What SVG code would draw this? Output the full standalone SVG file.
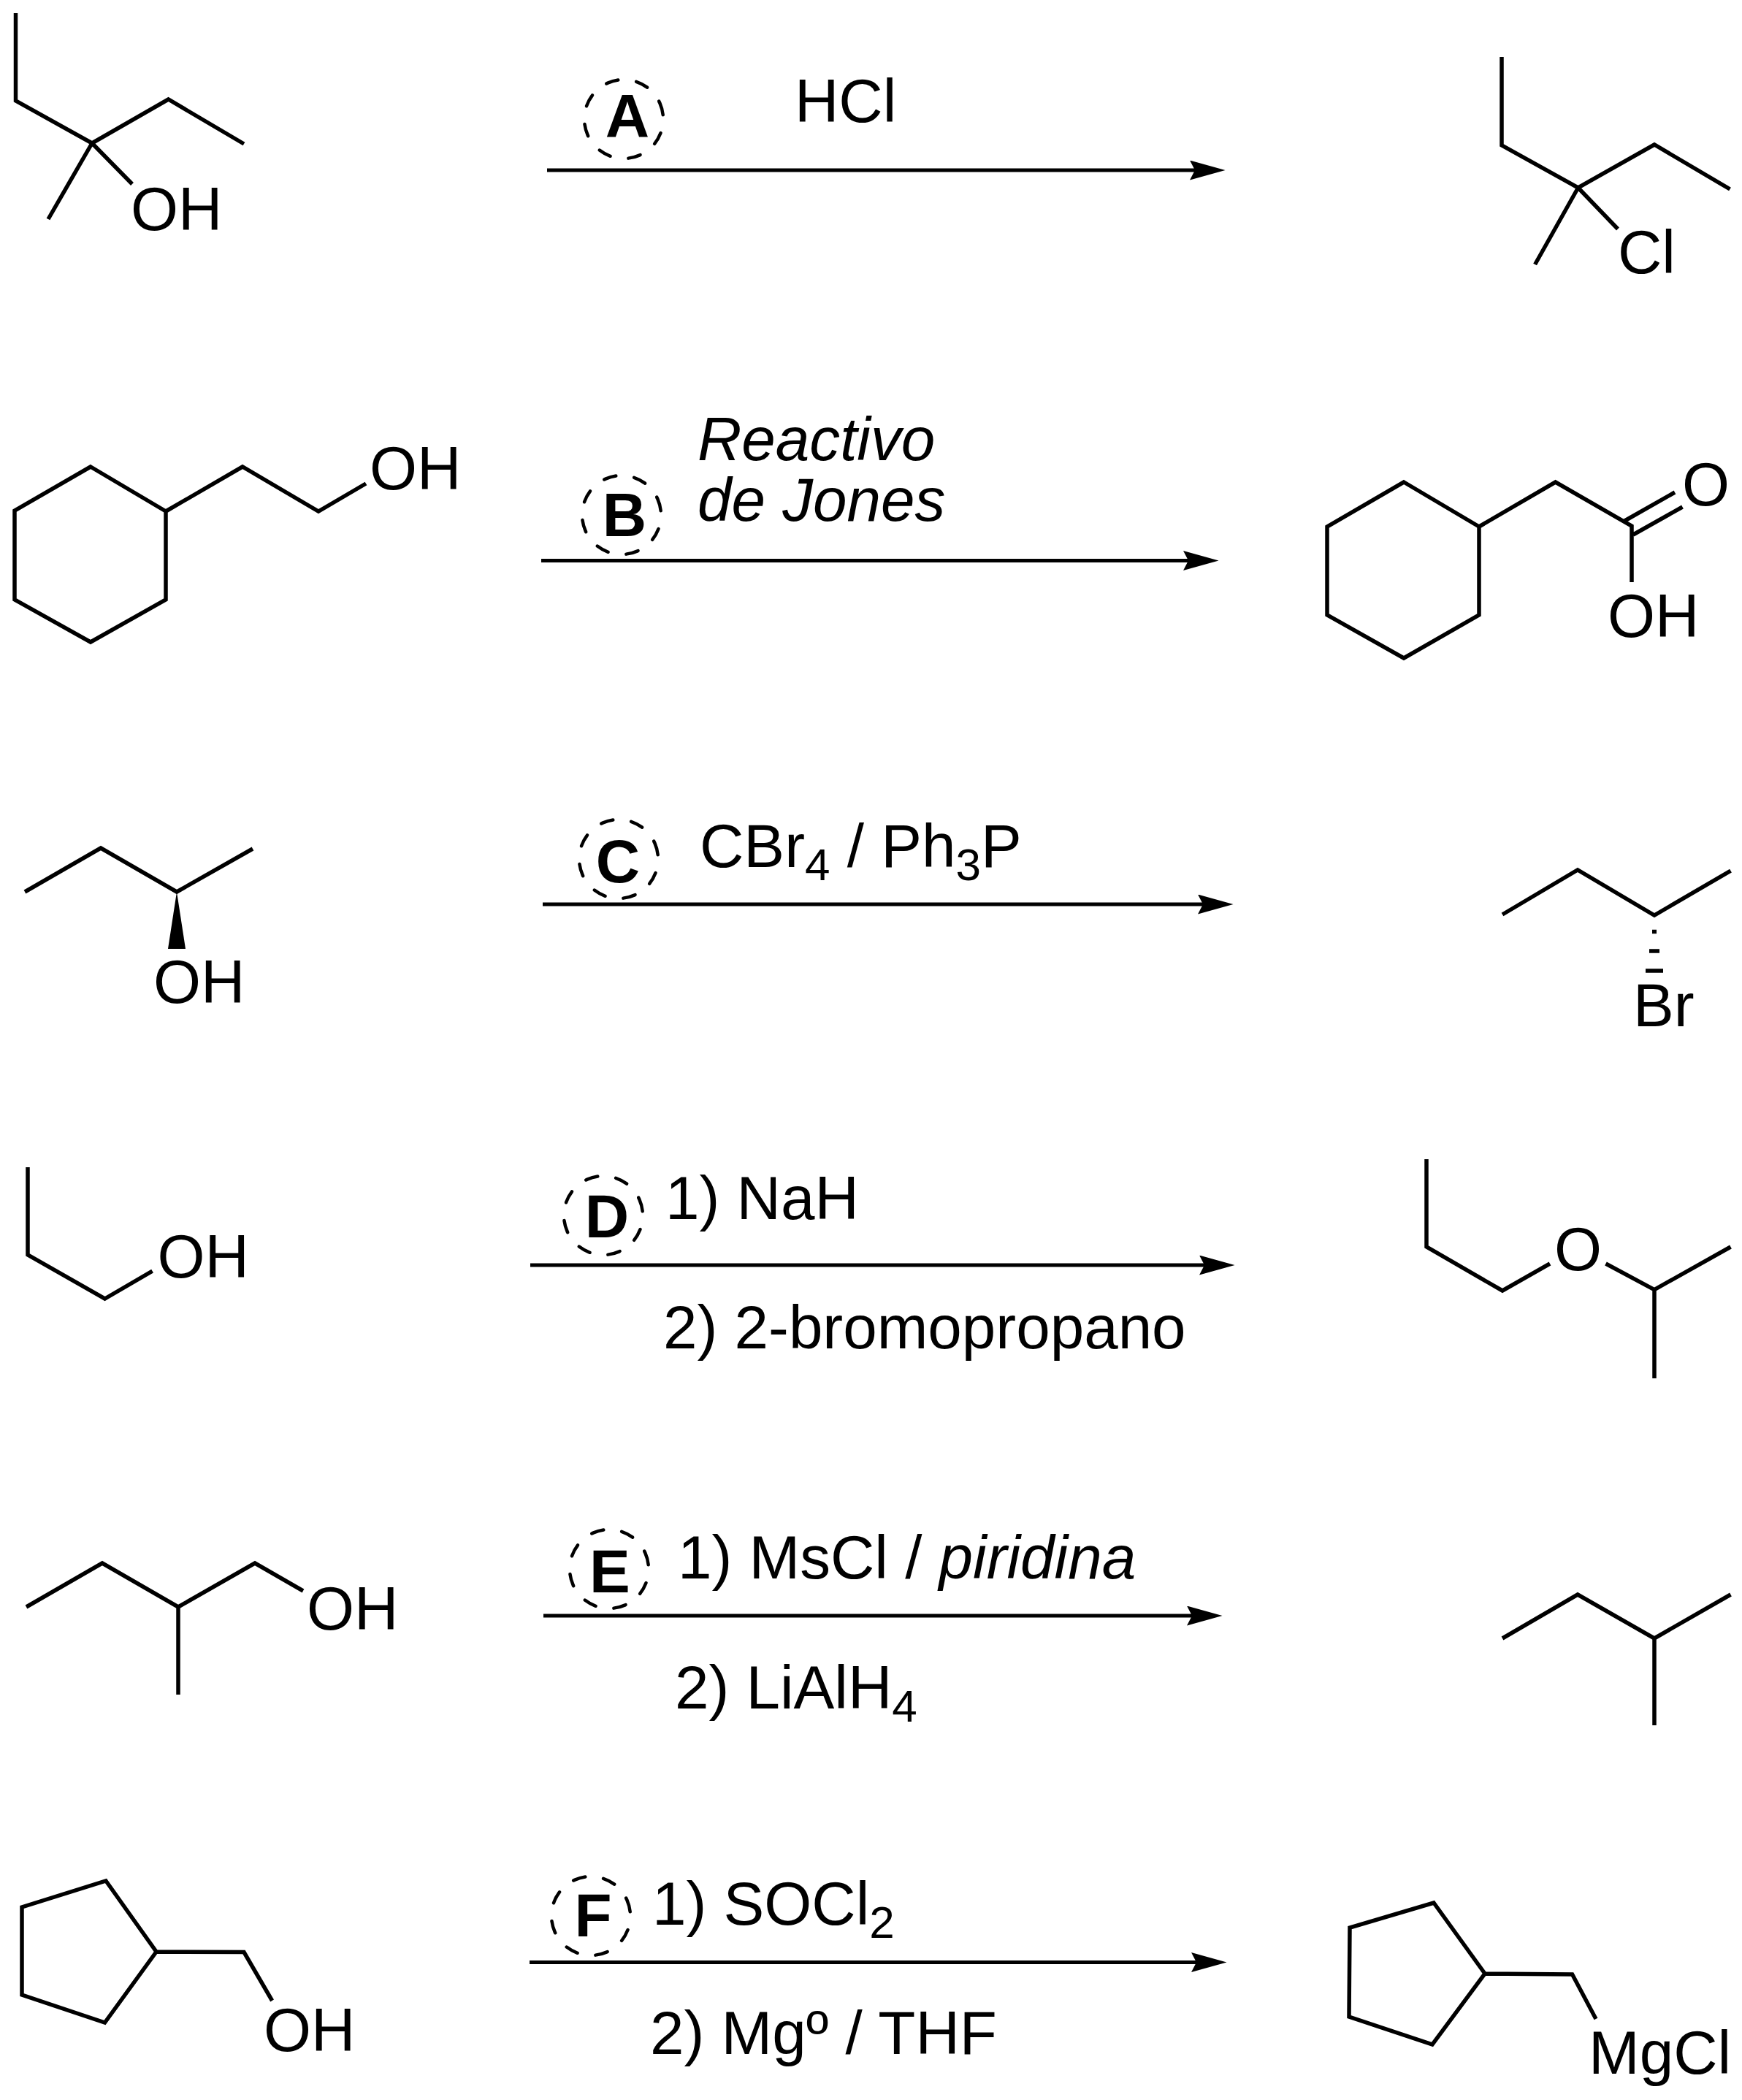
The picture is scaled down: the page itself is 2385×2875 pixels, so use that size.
<svg xmlns="http://www.w3.org/2000/svg" width="2385" height="2875" viewBox="0 0 2385 2875">
<style>
text{font-family:"Liberation Sans",Arial,sans-serif;font-size:83.6px;fill:#000}
.l{font-weight:700;text-anchor:middle}
.i{font-style:italic}
.s{font-size:62px}
.b{fill:none;stroke:#000;stroke-width:5.5;stroke-linejoin:miter;stroke-linecap:butt}
.d{fill:none;stroke:#000;stroke-width:4.5;stroke-linecap:round;stroke-dasharray:17 25}
.a{stroke:#000;stroke-width:5;fill:none;marker-end:url(#head)}
</style>
<defs>
<marker id="head" markerUnits="userSpaceOnUse" viewBox="0 0 48.5 27" markerWidth="48.5" markerHeight="27" refX="12" refY="13.5" orient="auto"><path d="M48.5 13.5L0 0L7 13.5L0 27Z" fill="#000"/></marker>
</defs>
<rect width="2385" height="2875" fill="#fff"/>
<g id="connectors">
<line class="a" x1="749" y1="233" x2="1641" y2="233"/>
<line class="a" x1="741" y1="767.500" x2="1632" y2="767.500"/>
<line class="a" x1="743" y1="1238" x2="1652" y2="1238"/>
<line class="a" x1="726" y1="1732" x2="1654" y2="1732"/>
<line class="a" x1="744" y1="2212" x2="1637" y2="2212"/>
<line class="a" x1="725" y1="2686.500" x2="1643" y2="2686.500"/>
</g>
<g id="mol-1-reactant">
<path class="b" d="M21.500 18V138L126 196L230.500 136L334 197M126 196L66 300M126 196L181 252"/>
<text x="179" y="314.500">OH</text>
</g>
<g id="mol-1-product">
<path class="b" d="M2056 78V199L2160.600 257L2265 198L2368.500 259M2160.600 257L2101.600 362M2160.600 257L2215 313.500"/>
<text x="2215" y="374">Cl</text>
</g>
<g id="mol-2-reactant">
<path class="b" d="M124 639L227 700V821L124 879L20 821V699ZM227 700L332 639L436 700L501 662"/>
<text x="506" y="670">OH</text>
</g>
<g id="mol-2-product">
<path class="b" d="M1922 660L2025 721V842L1922 901L1817 842V721ZM2025 721L2129.600 660L2234 720V797M2222.600 714L2293 674M2236 732L2303.500 694"/>
<text x="2303" y="692">O</text>
<text x="2201" y="871.500">OH</text>
</g>
<g id="mol-3-reactant">
<path class="b" d="M34 1221L138 1161L242 1221L346 1162"/>
<path d="M242 1221L230 1299H254Z" fill="#000"/>
<text x="210" y="1373">OH</text>
</g>
<g id="mol-3-product">
<path class="b" d="M2057 1252L2160 1191L2265 1253L2369.500 1192M2262 1275.600H2268M2258 1302H2272M2253 1329H2277"/>
<text x="2236" y="1404.500">Br</text>
</g>
<g id="mol-4-reactant">
<path class="b" d="M38 1598V1718L143.500 1778L208.600 1740"/>
<text x="215.500" y="1749">OH</text>
</g>
<g id="mol-4-product">
<path class="b" d="M1953 1587V1707L2057 1767L2122 1730M2198.500 1730L2265 1765.600L2369.500 1707M2265 1765.600V1887"/>
<text x="2128" y="1739">O</text>
</g>
<g id="mol-5-reactant">
<path class="b" d="M36 2200L140 2140L244 2200L349 2140L415 2178M244 2200V2320"/>
<text x="420" y="2231">OH</text>
</g>
<g id="mol-5-product">
<path class="b" d="M2057 2243L2160 2183L2265 2243L2369.500 2183M2265 2243V2362"/>
</g>
<g id="mol-6-reactant">
<path class="b" d="M145 2575L214 2672L143.500 2769L30 2731V2611ZM214 2672L334 2672.500L372.600 2739"/>
<text x="361" y="2808">OH</text>
</g>
<g id="mol-6-product">
<path class="b" d="M1963 2605L2033 2702L1961 2799L1847 2761L1848 2639ZM2033 2702L2152.600 2703L2185 2764"/>
<text x="2175" y="2839">MgCl</text>
</g>
<g id="reaction-a">
<circle class="d" r="54" transform="translate(854 163) rotate(-24)"/>
<text class="l" x="859" y="188">A</text>
<text x="1088" y="167">HCl</text>
</g>
<g id="reaction-b">
<circle class="d" r="54" transform="translate(851 705) rotate(-24)"/>
<text class="l" x="855" y="733.500">B</text>
<text class="i" x="955" y="630">Reactivo<tspan x="955" dy="83">de Jones</tspan></text>
</g>
<g id="reaction-c">
<circle class="d" r="54" transform="translate(847 1176) rotate(-24)"/>
<text class="l" x="846" y="1207.500">C</text>
<text x="958" y="1187">CBr<tspan class="s" dy="18">4</tspan><tspan dy="-18"> / Ph</tspan><tspan class="s" dy="18">3</tspan><tspan dy="-18">P</tspan></text>
</g>
<g id="reaction-d">
<circle class="d" r="54" transform="translate(826 1664) rotate(-24)"/>
<text class="l" x="831" y="1694">D</text>
<text x="911" y="1669">1) NaH</text>
<text x="908" y="1845.500">2) 2-bromopropano</text>
</g>
<g id="reaction-e">
<circle class="d" r="54" transform="translate(834 2148) rotate(-24)"/>
<text class="l" x="835" y="2180">E</text>
<text x="928" y="2161">1) MsCl / <tspan class="i">piridina</tspan></text>
<text x="924" y="2339">2) LiAlH<tspan class="s" dy="18">4</tspan></text>
</g>
<g id="reaction-f">
<circle class="d" r="54" transform="translate(809 2623) rotate(-24)"/>
<text class="l" x="812" y="2651">F</text>
<text x="893" y="2635">1) SOCl<tspan class="s" dy="18">2</tspan></text>
<text x="890" y="2811.500">2) Mgº / THF</text>
</g>
</svg>
